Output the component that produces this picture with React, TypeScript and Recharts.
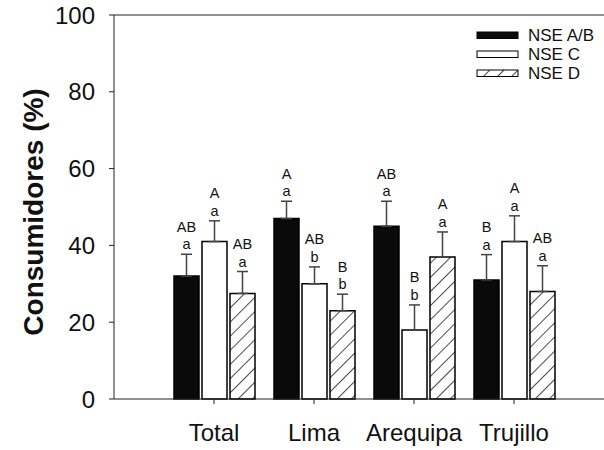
import React from 'react'
import {
  BarChart,
  Bar,
  XAxis,
  YAxis,
  ErrorBar,
  LabelList,
  Legend,
  ReferenceLine,
  Label,
} from 'recharts'

const categories = ['Total', 'Lima', 'Arequipa', 'Trujillo']

const nseAB = [32, 47, 45, 31]
const nseC = [41, 30, 18, 41]
const nseD = [27.5, 23, 37, 28]

// upper standard error
const errAB = [5.7, 4.5, 6.5, 6.6]
const errC = [5.4, 4.4, 6.5, 6.7]
const errD = [5.7, 4.3, 6.5, 6.7]

// significance letters (upper = between groups, lower = within city)
const upperAB = ['AB', 'A', 'AB', 'B']
const lowerAB = ['a', 'a', 'a', 'a']
const upperC = ['A', 'AB', 'B', 'A']
const lowerC = ['a', 'b', 'b', 'a']
const upperD = ['AB', 'B', 'A', 'AB']
const lowerD = ['a', 'b', 'a', 'a']

const yTicks = [0, 20, 40, 60, 80, 100]

const FONT = '"Liberation Sans", Arial, sans-serif'

const data = categories.map((name, i) => ({
  name,
  ab: nseAB[i],
  c: nseC[i],
  d: nseD[i],
  abErr: [0, errAB[i]],
  cErr: [0, errC[i]],
  dErr: [0, errD[i]],
}))

const legendItems = [
  { label: 'NSE A/B', fill: '#0a0a0a' },
  { label: 'NSE C', fill: '#ffffff' },
  { label: 'NSE D', fill: 'url(#hatchLegend)' },
]

// two stacked letters above each error bar
const letters = (upper: string[], lower: string[], errs: number[]) => (props: any) => {
  const { x, y, width, height, value, index } = props
  if (value == null || !height) return null
  const pxPerUnit = Number(height) / Number(value)
  const top = Number(y) - errs[index] * pxPerUnit
  const cx = Number(x) + Number(width) / 2
  return (
    <g fontFamily={FONT} fontSize={14.5} fill="#111">
      <text x={cx} y={top - 22.5} textAnchor="middle">
        {upper[index]}
      </text>
      <text x={cx} y={top - 5} textAnchor="middle">
        {lower[index]}
      </text>
    </g>
  )
}

function LegendBox() {
  return (
    <div style={{ fontFamily: FONT, fontSize: 17, color: '#111' }}>
      {legendItems.map((it) => (
        <div key={it.label} style={{ display: 'flex', alignItems: 'center', height: 19 }}>
          <svg width={44} height={9} style={{ display: 'block' }}>
            <defs>
              <pattern
                id="hatchLegend"
                patternUnits="userSpaceOnUse"
                width={10}
                height={10}
                patternTransform="rotate(45)"
              >
                <rect width={10} height={10} fill="#fff" />
                <line x1={0} y1={0} x2={0} y2={10} stroke="#000" strokeWidth={1.4} />
              </pattern>
            </defs>
            <rect x={1} y={1} width={41} height={6.5} fill={it.fill} stroke="#000" strokeWidth={1} />
          </svg>
          <span style={{ marginLeft: 8, lineHeight: '19px' }}>{it.label}</span>
        </div>
      ))}
    </div>
  )
}

export default function App() {
  return (
    <div style={{ position: 'absolute', left: 0, top: 0, width: 604, height: 450, overflow: 'hidden', background: '#fff' }}>
      <BarChart
        width={640}
        height={450}
        data={data}
        margin={{ top: 15, right: 26, bottom: 0, left: 0 }}
        barSize={25}
        barGap={3}
      >
        <defs>
          <pattern
            id="hatch"
            patternUnits="userSpaceOnUse"
            width={10}
            height={10}
            patternTransform="rotate(45)"
          >
            <rect width={10} height={10} fill="#fff" />
            <line x1={0} y1={0} x2={0} y2={10} stroke="#000" strokeWidth={1.4} />
          </pattern>
        </defs>
        <XAxis
          dataKey="name"
          height={51}
          padding={{ left: 50, right: 50 }}
          tickSize={5}
          tickMargin={20}
          stroke="#222"
          tick={{ fill: '#111', fontSize: 24, fontFamily: FONT }}
        />
        <YAxis
          width={114}
          domain={[0, 100]}
          ticks={yTicks}
          tickSize={5}
          tickMargin={14}
          stroke="#222"
          tick={{ fill: '#111', fontSize: 24, fontFamily: FONT }}
        >
          <Label
            content={() => (
              <text
                x={43}
                y={212}
                transform="rotate(-90 43 212)"
                textAnchor="middle"
                fontFamily={FONT}
                fontWeight="bold"
                fontSize={28}
                fill="#111"
              >
                Consumidores (%)
              </text>
            )}
          />
        </YAxis>
        <ReferenceLine y={100} stroke="#222" strokeWidth={1} />
        <Legend
          layout="vertical"
          align="center"
          verticalAlign="middle"
          content={() => <LegendBox />}
          wrapperStyle={{ position: 'absolute', left: 476, top: 26, width: 130 }}
        />
        <Bar dataKey="ab" fill="#0a0a0a" stroke="#000" strokeWidth={1.5} isAnimationActive={false}>
          <ErrorBar dataKey="abErr" width={5.5} stroke="#444" strokeWidth={1.5} />
          <LabelList dataKey="ab" content={letters(upperAB, lowerAB, errAB)} />
        </Bar>
        <Bar dataKey="c" fill="#ffffff" stroke="#000" strokeWidth={1.5} isAnimationActive={false}>
          <ErrorBar dataKey="cErr" width={5.5} stroke="#444" strokeWidth={1.5} />
          <LabelList dataKey="c" content={letters(upperC, lowerC, errC)} />
        </Bar>
        <Bar dataKey="d" fill="url(#hatch)" stroke="#000" strokeWidth={1.5} isAnimationActive={false}>
          <ErrorBar dataKey="dErr" width={5.5} stroke="#444" strokeWidth={1.5} />
          <LabelList dataKey="d" content={letters(upperD, lowerD, errD)} />
        </Bar>
      </BarChart>
    </div>
  )
}
